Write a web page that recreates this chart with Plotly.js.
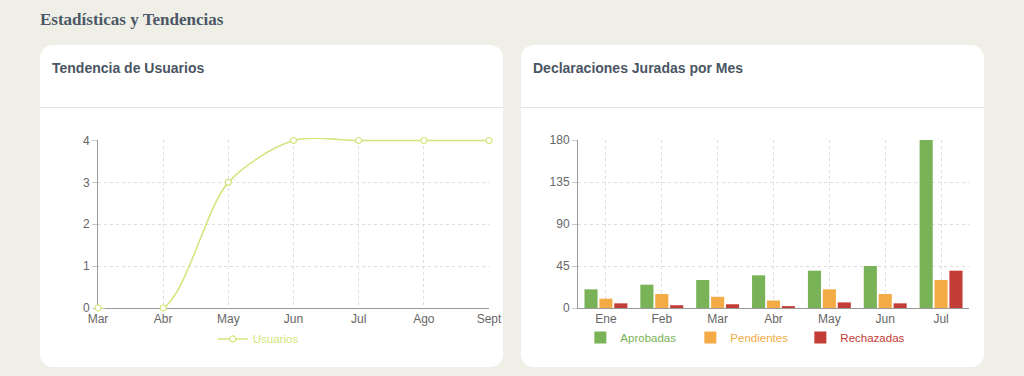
<!DOCTYPE html>
<html>
<head>
<meta charset="utf-8">
<script src="https://cdn.plot.ly/plotly-3.0.1.min.js"></script>
<style>
  html, body { margin:0; padding:0; width:1024px; height:376px; overflow:hidden; background:#efefe7; }
  h2 { position:absolute; left:40px; top:10px; margin:0; font-family:"Liberation Serif", serif; font-weight:bold; font-size:17px; color:#4c5866; }
  .card { position:absolute; top:45px; width:463px; height:322px; background:#fff; border-radius:13px; overflow:hidden; }
  .card .hd { height:62px; border-bottom:1px solid #e4e4e4; }
  .card .hd span { position:absolute; left:12px; top:15px; font-family:"Liberation Sans", Arial, sans-serif; font-weight:bold; font-size:14px; color:#4a5563; }
  .plot { position:absolute; left:0; top:63px; width:463px; height:259px; }
</style>
</head>
<body>
<h2>Estadísticas y Tendencias</h2>
<div class="card" style="left:40px;"><div class="hd"><span>Tendencia de Usuarios</span></div><div id="c1" class="plot"></div></div>
<div class="card" style="left:521px;"><div class="hd"><span>Declaraciones Juradas por Mes</span></div><div id="c2" class="plot"></div></div>
<script>
const userMonths = ["Mar", "Abr", "May", "Jun", "Jul", "Ago", "Sept"];
const userValues = [0, 0, 3, 4, 4, 4, 4];

const ddjjMonths = ["Ene", "Feb", "Mar", "Abr", "May", "Jun", "Jul"];
const aprobadas  = [20, 25, 30, 35, 40, 45, 180];
const pendientes = [10, 15, 12, 8, 20, 15, 30];
const rechazadas = [5, 3, 4, 2, 6, 5, 40];

const font = {family: "Liberation Sans, Arial, sans-serif", size: 12, color: "#666"};
const axisBase = {
  showline: true, linecolor: "#999", linewidth: 1,
  showgrid: true, gridcolor: "#dddddd", griddash: "3px,3px", gridwidth: 1,
  zeroline: false, fixedrange: true, tickfont: font
};
const yAxisBase = Object.assign({}, axisBase, {ticks: "outside", ticklen: 5, tickcolor: "#c8c8c8"});
const xAxisBase = Object.assign({}, axisBase, {ticks: "", ticklabelstandoff: 0});
const config = {staticPlot: true, displayModeBar: false};

// left chart: the line lives on a hidden subplot a few px taller than the main axes
const plotH = 168, padTop = 2.5, padBot = 1;
const yMax = 4;
const totalH = plotH + padTop + padBot;
const lineColor = "#d3e47a";
Plotly.newPlot("c1", [
  {
    x: userMonths, y: userValues, type: "scatter", mode: "markers",
    xaxis: "x", yaxis: "y", showlegend: false, hoverinfo: "skip",
    marker: {opacity: 0}
  },
  {
    x: userMonths, y: userValues, type: "scatter", mode: "lines+markers",
    xaxis: "x2", yaxis: "y2",
    name: '<span style="color:' + lineColor + '">Usuarios</span>',
    line: {color: lineColor, width: 1.5, shape: "spline", smoothing: 0.85},
    marker: {symbol: "circle", size: 6, color: "#fff", line: {color: lineColor, width: 1.2}},
    cliponaxis: false
  }
], {
  width: 463, height: 259,
  margin: {l: 58, r: 14, t: 32 - padTop, b: 59 - padBot},
  paper_bgcolor: "#fff", plot_bgcolor: "rgba(0,0,0,0)",
  font: font,
  showlegend: true,
  legend: {orientation: "h", x: 0.41, xanchor: "center", y: -0.175, yanchor: "middle", bgcolor: "rgba(0,0,0,0)", font: {size: 11.5, family: font.family}},
  xaxis: Object.assign({}, xAxisBase, {type: "category", categoryarray: userMonths, range: [0, 6], anchor: "y"}),
  yaxis: Object.assign({}, yAxisBase, {range: [0, yMax], dtick: 1, tick0: 0, domain: [padBot / totalH, 1 - padTop / totalH], anchor: "x"}),
  xaxis2: {type: "category", categoryarray: userMonths, range: [0, 6], visible: false, anchor: "y2", fixedrange: true},
  yaxis2: {range: [-yMax * padBot / plotH, yMax + yMax * padTop / plotH], domain: [0, 1], visible: false, anchor: "x2", fixedrange: true}
}, config);

Plotly.newPlot("c2", [
  {x: ddjjMonths, y: aprobadas, type: "bar", name: '<span style="color:#79b257">Aprobadas</span>', marker: {color: "#79b257"}},
  {x: ddjjMonths, y: pendientes, type: "bar", name: '<span style="color:#f3ac45">Pendientes</span>', marker: {color: "#f3ac45"}},
  {x: ddjjMonths, y: rechazadas, type: "bar", name: '<span style="color:#c43c36">Rechazadas</span>', marker: {color: "#c43c36"}}
], {
  width: 463, height: 259,
  margin: {l: 57, r: 15, t: 32, b: 59},
  paper_bgcolor: "#fff", plot_bgcolor: "#fff",
  font: font,
  barmode: "group", bargap: 0.2, bargroupgap: 0.12,
  showlegend: true,
  legend: {orientation: "h", x: 0.006, xanchor: "left", y: -0.175, yanchor: "middle", bgcolor: "rgba(0,0,0,0)", entrywidth: 65, entrywidthmode: "pixels", font: {size: 11.5, family: font.family}},
  xaxis: Object.assign({}, xAxisBase, {type: "category"}),
  yaxis: Object.assign({}, yAxisBase, {range: [0, 180], dtick: 45, tick0: 0})
}, config);
</script>
</body>
</html>
